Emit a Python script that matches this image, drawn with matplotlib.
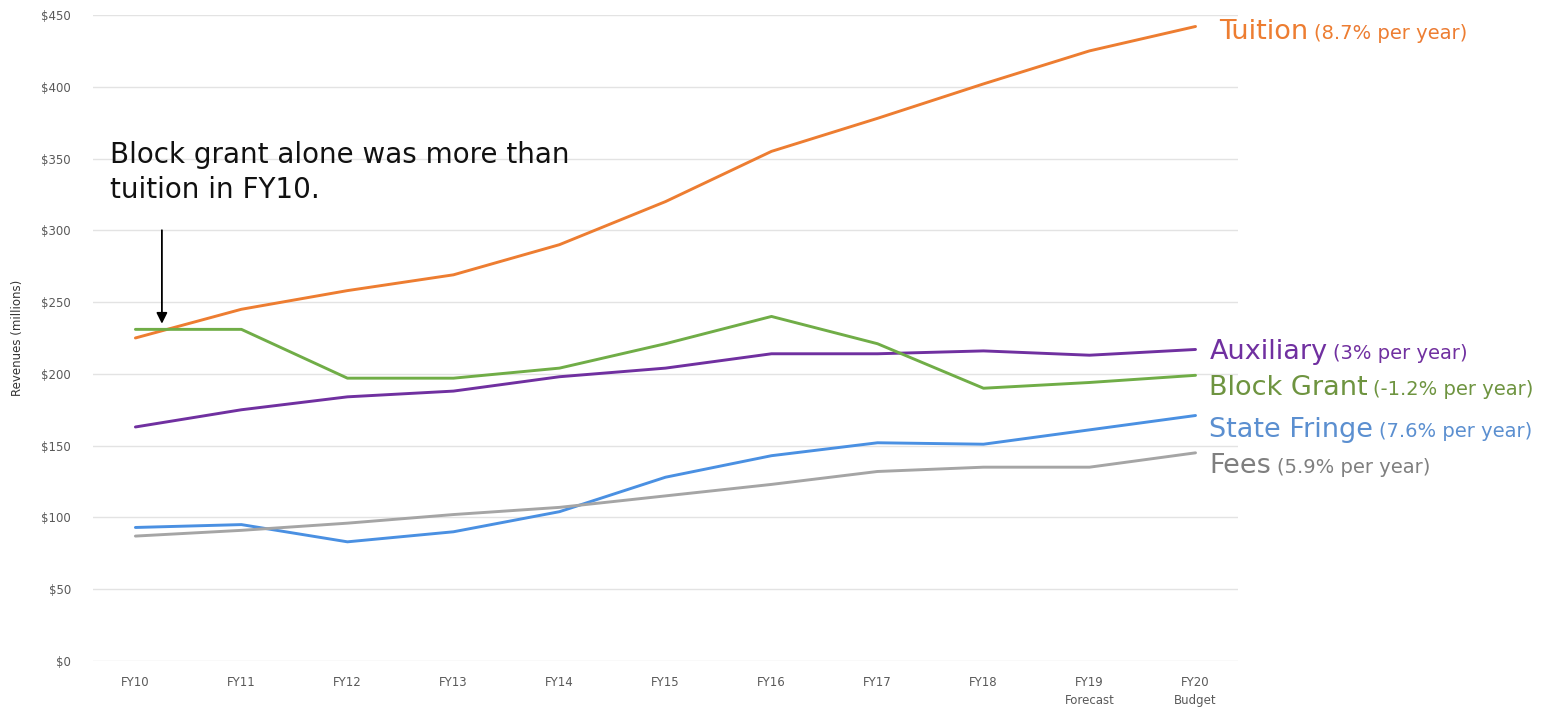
import matplotlib
matplotlib.use("Agg")
import matplotlib.pyplot as plt

plt.rcParams["font.family"] = ["DejaVu Sans"]

years = ["FY10", "FY11", "FY12", "FY13", "FY14", "FY15", "FY16", "FY17", "FY18",
         "FY19\nForecast", "FY20\nBudget"]

tuition = [225, 245, 258, 269, 290, 320, 355, 378, 402, 425, 442]
block_grant = [231, 231, 197, 197, 204, 221, 240, 221, 190, 194, 199]
auxiliary = [163, 175, 184, 188, 198, 204, 214, 214, 216, 213, 217]
state_fringe = [93, 95, 83, 90, 104, 128, 143, 152, 151, 161, 171]
fees = [87, 91, 96, 102, 107, 115, 123, 132, 135, 135, 145]

y_ticks = [0, 50, 100, 150, 200, 250, 300, 350, 400, 450]
y_labels = ["$0", "$50", "$100", "$150", "$200", "$250", "$300", "$350", "$400", "$450"]

# name, rate text, values, line colour, text colour, label x, label y
series = [
    ("Tuition", "(8.7% per year)", tuition, "#ED7D31", "#ED7D31", 10.22, 438),
    ("Auxiliary", "(3% per year)", auxiliary, "#7030A0", "#7030A0", 10.13, 215),
    ("Block Grant", "(-1.2% per year)", block_grant, "#70AD47", "#6E9440", 10.13, 190),
    ("State Fringe", "(7.6% per year)", state_fringe, "#4A90E2", "#5B8FD0", 10.13, 161),
    ("Fees", "(5.9% per year)", fees, "#A5A5A5", "#7F7F7F", 10.13, 136),
]

fig = plt.figure(figsize=(15.55, 7.07), dpi=100)
ax = fig.add_axes([0.0598, 0.0651, 0.7363, 0.9137])

x = list(range(len(years)))
for name, rate, vals, lc, tc, lx, ly in series:
    ax.plot(x, vals, color=lc, linewidth=2.1, solid_capstyle="round")
    t = ax.text(lx, ly, name, color=tc, fontsize=19.5, va="center", ha="left",
                clip_on=False)
    ax.annotate(rate, xy=(1, 0), xycoords=t, xytext=(4, 1.5), textcoords="offset points",
                color=tc, fontsize=14, va="bottom", ha="left")

ax.set_xlim(-0.4, 10.4)
ax.set_ylim(0, 450)
ax.set_xticks(x)
ax.set_xticklabels(years, fontsize=8.5, color="#595959", linespacing=1.5)
ax.set_yticks(y_ticks)
ax.set_yticklabels(y_labels, fontsize=8.5, color="#595959")
ax.tick_params(length=0, axis="y", pad=16)
ax.tick_params(length=0, axis="x", pad=11)
ax.grid(axis="y", color="#E3E3E3", linewidth=1)
ax.set_axisbelow(True)
for s in ax.spines.values():
    s.set_visible(False)

ax.set_ylabel("Revenues (millions)", fontsize=8.5, color="#333333", labelpad=12)

ax.text(-0.24, 362, "Block grant alone was more than\ntuition in FY10.", fontsize=20,
        color="#111111", va="top", ha="left", linespacing=1.3)
ax.annotate("", xy=(0.25, 233), xytext=(0.25, 302),
            arrowprops=dict(arrowstyle="-|>", color="black", lw=1.3, mutation_scale=16))

fig.savefig("out.png", dpi=100)
